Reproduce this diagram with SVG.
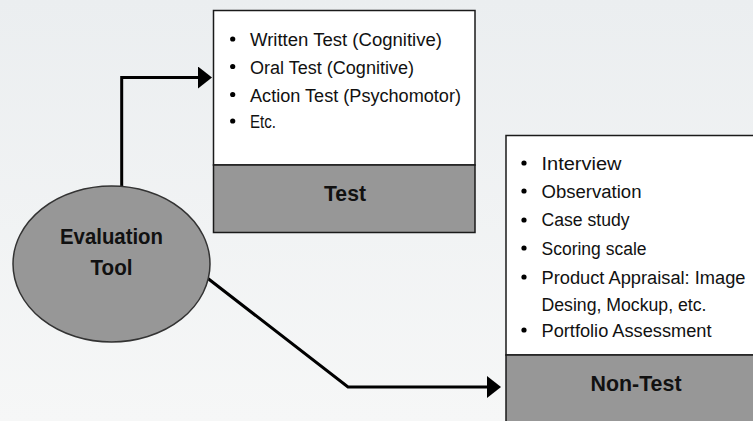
<svg xmlns="http://www.w3.org/2000/svg" width="753" height="421" viewBox="0 0 753 421">
<defs>
<linearGradient id="bg" x1="0" y1="0" x2="0" y2="1">
<stop offset="0" stop-color="#ebeef0"/>
<stop offset="1" stop-color="#f6f7f7"/>
</linearGradient>
<marker id="ah" markerUnits="userSpaceOnUse" markerWidth="16" markerHeight="24" refX="0" refY="11" orient="auto">
<path d="M0,0 L14,11 L0,22 Z" fill="#000"/>
</marker>
</defs>
<style>
.box{fill:#fff;stroke:#1a1a1a;stroke-width:1.5}
.band{fill:#979797;stroke:#1a1a1a;stroke-width:1.5}
.conn{fill:none;stroke:#000;stroke-width:3;marker-end:url(#ah)}
.item{font-family:"Liberation Sans",Arial,sans-serif;font-size:18px;fill:#111}
.title{font-family:"Liberation Sans",Arial,sans-serif;font-size:22px;font-weight:bold;fill:#111;text-anchor:middle}
.dot{fill:#000}
</style>
<rect x="0" y="0" width="753" height="421" fill="url(#bg)"/>
<g id="connectors">
<path class="conn" d="M121.7,188 V77.5 H198"/>
<path class="conn" d="M206,277 L348,387 H487"/>
</g>
<g id="evaluation-tool">
<ellipse cx="111.5" cy="264" rx="98.5" ry="78" fill="#979797" stroke="#333" stroke-width="1.5"/>
<text class="title" x="111.5" y="244" textLength="103" lengthAdjust="spacingAndGlyphs">Evaluation</text>
<text class="title" x="111.5" y="275" textLength="42" lengthAdjust="spacingAndGlyphs">Tool</text>
</g>
<g id="test">
<rect class="box" x="213.5" y="10.5" width="261.5" height="154.5"/>
<rect class="band" x="213.5" y="165" width="261.5" height="67.5"/>
<circle class="dot" cx="232.7" cy="39" r="2.6"/>
<circle class="dot" cx="232.7" cy="66.5" r="2.6"/>
<circle class="dot" cx="232.7" cy="94.5" r="2.6"/>
<circle class="dot" cx="232.7" cy="121" r="2.6"/>
<text class="item" x="250" y="46" textLength="192" lengthAdjust="spacingAndGlyphs">Written Test (Cognitive)</text>
<text class="item" x="250" y="73.5" textLength="164" lengthAdjust="spacingAndGlyphs">Oral Test (Cognitive)</text>
<text class="item" x="250" y="101.5" textLength="211" lengthAdjust="spacingAndGlyphs">Action Test (Psychomotor)</text>
<text class="item" x="250" y="128" textLength="26" lengthAdjust="spacingAndGlyphs">Etc.</text>
<text class="title" x="345" y="201" textLength="42" lengthAdjust="spacingAndGlyphs">Test</text>
</g>
<g id="non-test">
<rect class="box" x="506" y="135.5" width="262" height="219.5"/>
<rect class="band" x="506" y="355" width="262" height="80"/>
<circle class="dot" cx="524" cy="163" r="2.6"/>
<circle class="dot" cx="524" cy="191" r="2.6"/>
<circle class="dot" cx="524" cy="220" r="2.6"/>
<circle class="dot" cx="524" cy="248" r="2.6"/>
<circle class="dot" cx="524" cy="277" r="2.6"/>
<circle class="dot" cx="524" cy="330" r="2.6"/>
<text class="item" x="541.5" y="170" textLength="80" lengthAdjust="spacingAndGlyphs">Interview</text>
<text class="item" x="541.5" y="198" textLength="100" lengthAdjust="spacingAndGlyphs">Observation</text>
<text class="item" x="541.5" y="226" textLength="88" lengthAdjust="spacingAndGlyphs">Case study</text>
<text class="item" x="541.5" y="254.5" textLength="105" lengthAdjust="spacingAndGlyphs">Scoring scale</text>
<text class="item" x="541.5" y="284" textLength="204" lengthAdjust="spacingAndGlyphs">Product Appraisal: Image</text>
<text class="item" x="541.5" y="311" textLength="165" lengthAdjust="spacingAndGlyphs">Desing, Mockup, etc.</text>
<text class="item" x="541.5" y="337" textLength="170" lengthAdjust="spacingAndGlyphs">Portfolio Assessment</text>
<text class="title" x="636" y="391" textLength="91" lengthAdjust="spacingAndGlyphs">Non-Test</text>
</g>
</svg>
